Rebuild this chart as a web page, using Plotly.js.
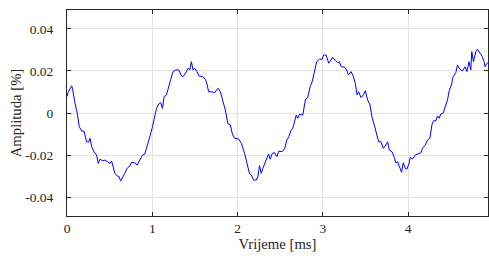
<!DOCTYPE html>
<html>
<head>
<meta charset="utf-8">
<script src="https://cdn.plot.ly/plotly-3.0.1.min.js"></script>
<style>html,body{margin:0;padding:0;background:#fff;}#chart{width:489px;height:259px;}</style>
</head>
<body>
<div id="chart"></div>
<script>
// Time in ms
const timeMs = [0.000,0.015,0.055,0.067,0.094,0.120,0.144,0.172,0.199,0.230,0.257,0.269,0.289,0.316,0.347,0.366,0.386,0.418,0.444,0.483,0.503,0.523,0.542,0.561,0.588,0.612,0.628,0.651,0.678,0.705,0.737,0.757,0.795,0.822,0.854,0.885,0.912,0.939,0.971,1.002,1.029,1.049,1.080,1.099,1.119,1.138,1.166,1.185,1.216,1.243,1.275,1.310,1.342,1.360,1.388,1.419,1.439,1.458,1.477,1.497,1.524,1.547,1.587,1.614,1.634,1.661,1.692,1.731,1.770,1.798,1.828,1.856,1.887,1.915,1.938,1.965,2.015,2.043,2.082,2.109,2.140,2.160,2.187,2.219,2.237,2.257,2.277,2.296,2.336,2.363,2.382,2.406,2.433,2.460,2.483,2.523,2.550,2.577,2.600,2.628,2.647,2.667,2.687,2.705,2.725,2.764,2.795,2.822,2.850,2.874,2.901,2.927,2.959,2.991,3.009,3.037,3.068,3.096,3.115,3.146,3.173,3.193,3.213,3.251,3.278,3.298,3.330,3.357,3.380,3.400,3.419,3.447,3.474,3.497,3.524,3.552,3.575,3.602,3.629,3.653,3.681,3.708,3.731,3.758,3.778,3.809,3.836,3.856,3.875,3.895,3.922,3.942,3.965,3.985,4.012,4.023,4.050,4.082,4.120,4.149,4.167,4.199,4.226,4.254,4.277,4.296,4.324,4.343,4.363,4.382,4.409,4.433,4.460,4.480,4.506,4.526,4.558,4.577,4.605,4.635,4.667,4.687,4.713,4.733,4.745,4.764,4.792,4.811,4.830,4.850,4.869,4.889,4.901,4.915,4.935];
// Amplitude in %
const amplitude = [0.0078,0.0101,0.0129,0.0110,0.0046,-0.0001,-0.0065,-0.0086,-0.0086,-0.0137,-0.0137,-0.0120,-0.0160,-0.0184,-0.0200,-0.0240,-0.0220,-0.0227,-0.0224,-0.0235,-0.0240,-0.0229,-0.0256,-0.0287,-0.0299,-0.0303,-0.0324,-0.0303,-0.0287,-0.0263,-0.0252,-0.0235,-0.0237,-0.0248,-0.0220,-0.0200,-0.0195,-0.0160,-0.0113,-0.0065,-0.0010,0.0022,0.0046,0.0049,0.0022,0.0078,0.0086,0.0118,0.0160,0.0197,0.0205,0.0205,0.0176,0.0173,0.0189,0.0213,0.0205,0.0244,0.0205,0.0213,0.0197,0.0176,0.0173,0.0165,0.0149,0.0101,0.0101,0.0097,0.0118,0.0101,0.0062,0.0014,-0.0052,-0.0057,-0.0100,-0.0120,-0.0125,-0.0144,-0.0192,-0.0240,-0.0290,-0.0295,-0.0319,-0.0319,-0.0303,-0.0251,-0.0287,-0.0263,-0.0224,-0.0195,-0.0220,-0.0192,-0.0189,-0.0208,-0.0181,-0.0184,-0.0171,-0.0129,-0.0113,-0.0081,-0.0073,-0.0041,-0.0010,-0.0025,-0.0006,-0.0010,0.0065,0.0073,0.0125,0.0149,0.0205,0.0244,0.0256,0.0256,0.0276,0.0276,0.0237,0.0252,0.0265,0.0249,0.0240,0.0244,0.0220,0.0219,0.0205,0.0181,0.0197,0.0173,0.0141,0.0086,0.0101,0.0073,0.0086,0.0106,0.0062,0.0038,-0.0018,-0.0057,-0.0097,-0.0137,-0.0137,-0.0168,-0.0157,-0.0137,-0.0176,-0.0184,-0.0211,-0.0237,-0.0232,-0.0256,-0.0282,-0.0237,-0.0263,-0.0267,-0.0237,-0.0211,-0.0219,-0.0200,-0.0195,-0.0189,-0.0168,-0.0152,-0.0129,-0.0120,-0.0057,-0.0037,-0.0037,-0.0014,-0.0025,-0.0005,-0.0001,0.0027,0.0062,0.0106,0.0133,0.0173,0.0192,0.0229,0.0208,0.0200,0.0220,0.0197,0.0244,0.0205,0.0292,0.0244,0.0292,0.0303,0.0292,0.0276,0.0268,0.0244,0.0220,0.0233,0.0240];

const xTickVals = [0,1,2,3,4];
const xTickText = ['0','1','2','3','4'];
const yTickVals = [0.04,0.02,0,-0.02,-0.04];
const yTickText = ['0.04','0.02','0','-0.02','-0.04'];

const fam = 'Liberation Serif';
const tickFont = {family: fam, size: 13.5, color: '#262626'};
const titleFont = {family: fam, size: 14.7, color: '#262626'};

Plotly.newPlot('chart', [{
  x: timeMs, y: amplitude, type: 'scatter', mode: 'lines',
  line: {color: '#0000ff', width: 1}, hoverinfo: 'skip'
}], {
  width: 489, height: 259,
  margin: {l: 67, r: 1, t: 10, b: 43, pad: 0},
  paper_bgcolor: '#ffffff', plot_bgcolor: '#ffffff',
  font: {family: fam, size: 13.5, color: '#262626'}, showlegend: false,
  xaxis: {
    range: [0, 4.935], tickvals: xTickVals, ticktext: xTickText, tickfont: tickFont,
    showgrid: true, gridcolor: '#e3e3e3', gridwidth: 1,
    showline: true, linecolor: '#262626', linewidth: 1, mirror: 'ticks',
    ticks: 'inside', ticklen: 4, tickcolor: '#262626', zeroline: false,
    title: {text: 'Vrijeme [ms]', font: titleFont, standoff: 0}
  },
  yaxis: {
    range: [-0.049, 0.049], tickvals: yTickVals, ticktext: yTickText, tickfont: tickFont,
    showgrid: true, gridcolor: '#e3e3e3', gridwidth: 1,
    showline: true, linecolor: '#262626', linewidth: 1, mirror: 'ticks',
    ticks: 'inside', ticklen: 4, tickcolor: '#262626', zeroline: false,
    ticklabelstandoff: 10,
    title: {text: 'Amplituda [%]', font: titleFont, standoff: 0}
  }
}, {staticPlot: true, displayModeBar: false});
</script>
</body>
</html>
